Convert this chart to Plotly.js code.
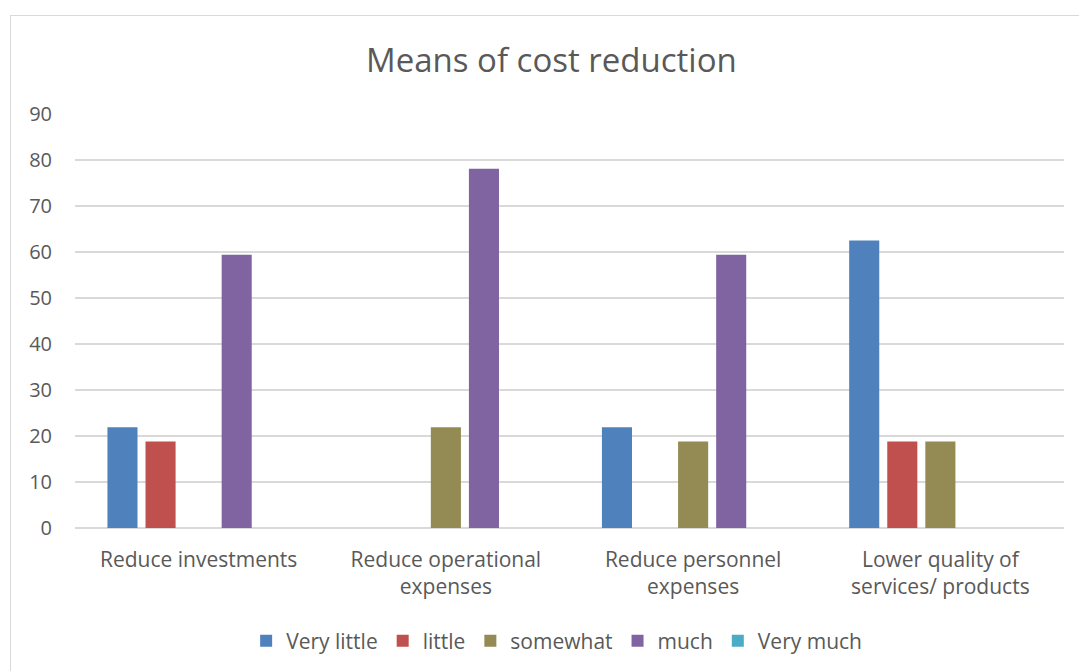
<!DOCTYPE html>
<html><head><meta charset="utf-8">
<script src="https://cdn.plot.ly/plotly-3.0.1.min.js"></script>
<style>
html,body{margin:0;padding:0;overflow:hidden;background:#fff;}
#frame{position:absolute;left:10px;top:15px;width:1075px;height:665px;border:1px solid #D9D9D9;}
#chart{position:absolute;left:0;top:0;width:1079px;height:671px;}
</style></head>
<body>
<div id="frame"></div>
<div id="chart"></div>
<script>
const categories = ["Reduce investments", "Reduce operational<br>expenses", "Reduce personnel<br>expenses", "Lower quality of<br>services/ products"];
const seriesNames = ["Very little", "little", "somewhat", "much", "Very much"];
const veryLittle = [21.9, 0, 21.9, 62.5];
const little = [18.8, 0, 0, 18.8];
const somewhat = [0, 21.9, 18.8, 18.8];
const much = [59.4, 78.1, 59.4, 0];
const veryMuch = [0, 0, 0, 0];
const colors = ["#4F81BD", "#C0504D", "#948A54", "#8064A2", "#4BACC6"];
const allValues = [veryLittle, little, somewhat, much, veryMuch];

const traces = allValues.map((vals, i) => ({
  type: 'bar',
  name: seriesNames[i],
  x: categories,
  y: vals,
  marker: {color: colors[i], line: {width: 0}},
  hoverinfo: 'skip'
}));

const font = "'Open Sans', 'Liberation Sans', sans-serif";
const layout = {
  width: 1079, height: 671,
  paper_bgcolor: 'rgba(0,0,0,0)',
  plot_bgcolor: 'rgba(0,0,0,0)',
  margin: {l: 75, r: 15, t: 114, b: 143, autoexpand: false},
  barmode: 'group',
  bargap: 0.23,
  bargroupgap: 0.21,
  title: {text: 'Means of cost reduction', x: 0.511, xanchor: 'center', y: 0.91, yanchor: 'middle',
          font: {family: font, size: 33, color: '#595959'}},
  font: {family: font, color: '#595959'},
  xaxis: {
    type: 'category',
    showgrid: false, zeroline: false, showline: false,
    ticks: '', ticklabelstandoff: 17,
    tickfont: {family: font, size: 21, color: '#595959'}
  },
  yaxis: {
    range: [0, 90], dtick: 10, tick0: 0,
    showgrid: true, gridcolor: '#D9D9D9', gridwidth: 1.3,
    zeroline: true, zerolinecolor: '#D9D9D9', zerolinewidth: 1.3,
    showline: false, ticks: '', ticklabelstandoff: 22,
    tickfont: {family: font, size: 20, color: '#595959'}
  },
  legend: {
    orientation: 'h', x: 0.487, xanchor: 'center', y: -0.273, yanchor: 'middle',
    font: {family: font, size: 21, color: '#595959'},
    itemwidth: 30, traceorder: 'normal'
  },
  showlegend: true
};
Plotly.newPlot('chart', traces, layout, {staticPlot: true});
</script>
</body></html>
